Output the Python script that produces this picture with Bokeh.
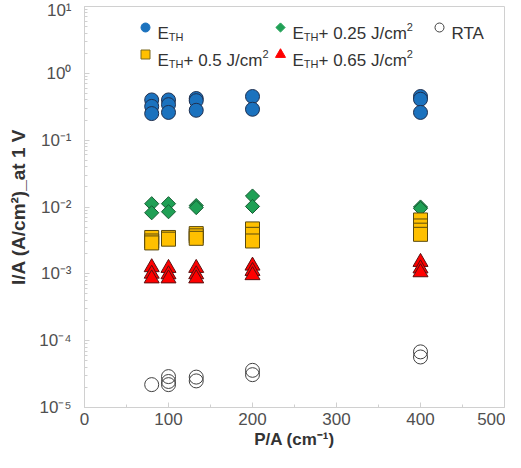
import math
from bokeh.plotting import figure
from bokeh.models import (Range1d, LinearScale, FixedTicker, CustomJSTickFormatter, Label)
from bokeh.embed import file_html
from bokeh.resources import INLINE

# ---------------- data ----------------
eth_x = [80, 80, 80, 100, 100, 100, 133, 133, 133, 200, 200, 400, 400, 400]
eth_y = [0.40, 0.32, 0.25, 0.40, 0.34, 0.26, 0.42, 0.39, 0.28, 0.45, 0.29, 0.45, 0.41, 0.26]

e25_x = [80, 80, 100, 100, 133, 133, 200, 200, 400, 400]
e25_y = [0.0112, 0.0082, 0.0112, 0.0085, 0.0105, 0.0098, 0.0146, 0.0102, 0.0100, 0.0095]

e50_x = [80, 80, 80, 100, 100, 133, 133, 133, 200, 200, 200, 400, 400, 400, 400]
e50_y = [0.0035, 0.0031, 0.0029, 0.0035, 0.0033, 0.0040, 0.0037, 0.0034,
         0.0047, 0.0039, 0.0031, 0.0064, 0.0052, 0.0045, 0.0039]

e65_x = [80, 80, 80, 100, 100, 100, 133, 133, 133, 200, 200, 200, 400, 400, 400]
e65_y = [0.00125, 0.00100, 0.00085, 0.00122, 0.00098, 0.00085, 0.00122, 0.00098, 0.00085,
         0.00132, 0.00110, 0.00095, 0.00150, 0.00120, 0.00105]

rta_x = [80, 100, 100, 100, 133, 133, 200, 200, 400, 400]
rta_y = [2.2e-5, 2.9e-5, 2.45e-5, 2.2e-5, 2.85e-5, 2.5e-5, 3.6e-5, 3.1e-5, 6.8e-5, 5.7e-5]

x_ticks = [0, 100, 200, 300, 400, 500]
y_ticks = [1e-5, 1e-4, 1e-3, 1e-2, 1e-1, 1, 10]

x_title = "P/A (cm\u207b\u00b9)"
y_title = "I/A (A/cm\u00b2)_at 1 V"

FONT = "Liberation Sans"
GRAY = "#d0d0d0"

LB, RB, TB, BB = 84, 1, 6, 45
FW, FH = 420, 401
p = figure(width=LB + FW + RB, height=TB + FH + BB, y_axis_type="log",
           x_range=Range1d(0, 500), y_range=Range1d(1e-5, 10),
           output_backend="svg", toolbar_location=None,
           min_border_left=LB, min_border_right=RB, min_border_top=TB, min_border_bottom=BB)
p.frame_width = FW
p.frame_height = FH
p.grid.visible = False
p.outline_line_color = GRAY
p.background_fill_color = "white"
p.border_fill_color = "white"

# axes
p.xaxis.ticker = FixedTicker(ticks=x_ticks, minor_ticks=[50, 150, 250, 350, 450])
minor = [k * 10.0 ** e for e in range(-5, 1) for k in range(2, 10)]
p.yaxis.ticker = FixedTicker(ticks=y_ticks, minor_ticks=minor)
p.yaxis.formatter = CustomJSTickFormatter(code="""
const sup = {"0":"\u2070","1":"\u00b9","2":"\u00b2","3":"\u00b3","4":"\u2074","5":"\u2075",
             "6":"\u2076","7":"\u2077","8":"\u2078","9":"\u2079","-":"\u207b"};
const e = Math.round(Math.log10(tick));
return "10" + String(e).split("").map(c => sup[c]).join("");
""")
for ax in (p.xaxis[0], p.yaxis[0]):
    ax.axis_line_color = GRAY
    ax.major_tick_line_color = GRAY
    ax.minor_tick_line_color = GRAY
    ax.major_tick_in = 5
    ax.major_tick_out = 0
    ax.minor_tick_in = 3
    ax.minor_tick_out = 0
    ax.major_label_text_font = FONT
    ax.major_label_text_font_size = "17px"
    ax.major_label_text_color = "#505050"
    ax.axis_label_text_font = FONT
    ax.axis_label_text_font_size = "17px"
    ax.axis_label_text_font_style = "bold"
    ax.axis_label_text_color = "#333333"
p.xaxis.axis_label = x_title
p.yaxis.axis_label = y_title
p.yaxis.axis_label_text_font_size = "19px"
p.xaxis.major_label_standoff = 5
p.xaxis.axis_label_standoff = 2
p.yaxis.major_label_standoff = 13
p.yaxis.axis_label_standoff = 7

# data marks
p.scatter(eth_x, eth_y, marker="circle", size=14, fill_color="#1b72be", line_color="#1f3050", line_width=1)
p.scatter(e25_x, e25_y, marker="square", angle=math.pi / 4, size=10, fill_color="#1fa055", line_color="#165c33", line_width=1)
p.scatter(e50_x, e50_y, marker="square", size=14, fill_color="#ffc000", line_color="#5a4a10", line_width=1)
p.scatter(e65_x, e65_y, marker="triangle", size=15, fill_color="#ff0000", line_color="#5a1010", line_width=1)
p.scatter(rta_x, rta_y, marker="circle", size=14, fill_color=None, line_color="#404040", line_width=1)

# ---------------- frame-pixel coordinate system for the legend ----------------
p.extra_x_ranges = {"lx": Range1d(0, FW)}
p.extra_y_ranges = {"ly": Range1d(FH, 0)}
p.extra_x_scales = {"lx": LinearScale()}
p.extra_y_scales = {"ly": LinearScale()}

W = {"E": .667, "T": .611, "H": .722, "+": .584, " ": .278, "0": .556, "2": .556, "5": .556,
     "6": .556, ".": .278, "J": .5, "/": .278, "c": .5, "m": .833, "R": .722, "A": .667}

def tw(s, fs):
    return sum(W.get(ch, .556) for ch in s) * fs

FS, SFS = 17, 11
R1, R2 = 21, 48
C1, C2, C3 = 61, 196, 355
leg_items = [
    (C1, R1, dict(marker="circle", size=9, fill_color="#1b72be", line_color="#1b72be"),
     [("E", "n"), ("TH", "sub")]),
    (C2, R1, dict(marker="square", angle=math.pi / 4, size=6.5, fill_color="#1fa055", line_color="#1fa055"),
     [("E", "n"), ("TH", "sub"), ("+ 0.25 J/cm", "n"), ("2", "sup")]),
    (C3, R1, dict(marker="circle", size=9, fill_color=None, line_color="#404040"),
     [("RTA", "n")]),
    (C1, R2, dict(marker="square", size=9, fill_color="#ffc000", line_color="#7a6a20"),
     [("E", "n"), ("TH", "sub"), ("+ 0.5 J/cm", "n"), ("2", "sup")]),
    (C2, R2, dict(marker="triangle", size=10, fill_color="#ff0000", line_color="#ff0000"),
     [("E", "n"), ("TH", "sub"), ("+ 0.65 J/cm", "n"), ("2", "sup")]),
]
for mx, my, mk, pieces in leg_items:
    p.scatter([mx], [my], x_range_name="lx", y_range_name="ly", **mk)
    x = mx + 12
    base = my + 6
    for txt, kind in pieces:
        if kind == "n":
            fs, dy = FS, 0
        elif kind == "sub":
            fs, dy = SFS, 3
        else:
            fs, dy = SFS, -7
        p.add_layout(Label(x=x, y=base + dy, x_range_name="lx", y_range_name="ly", text=txt,
                           text_font=FONT, text_font_size=f"{fs}px", text_color="#333333",
                           text_baseline="alphabetic", text_align="left"))
        x += tw(txt, fs)

open("out.html", "w").write(file_html(p, INLINE))
